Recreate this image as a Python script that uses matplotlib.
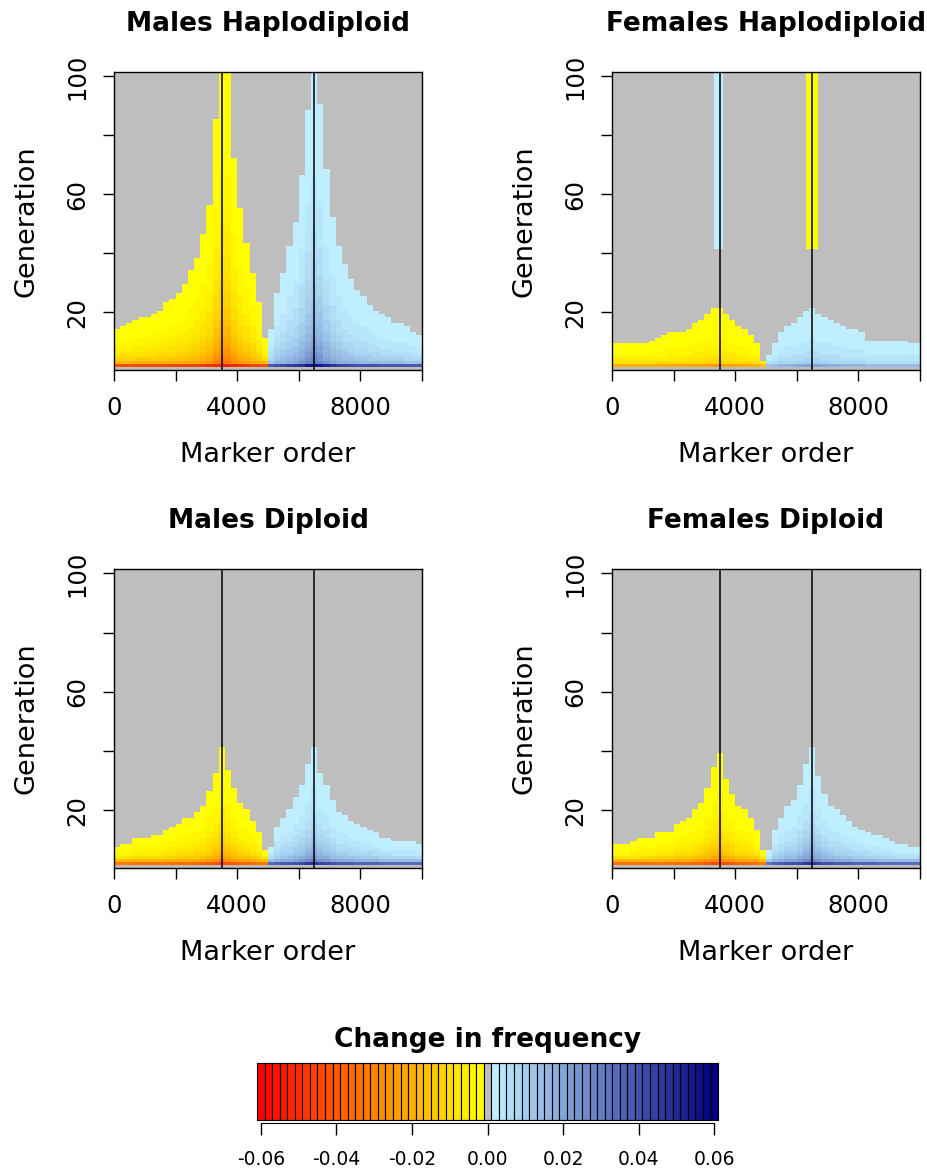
import numpy as np
import matplotlib
matplotlib.use("Agg")
from matplotlib import pyplot as plt
from matplotlib.colors import ListedColormap, BoundaryNorm

titles = ["Males Haplodiploid", "Females Haplodiploid", "Males Diploid", "Females Diploid"]

# last generation with a visible change, one value per 200-marker bin (0 .. 10000)
# first 25 bins: frequency goes down (yellow/red), last 25: goes up (blue)
height_males_haplo = [14.5, 15, 16, 17.5, 18, 18.5, 19, 20, 23, 24, 26, 29, 34, 38, 46, 56, 85, 101, 101, 72, 55, 43, 33, 23, 11,
                      14, 26, 33, 42, 50, 66, 88, 101, 90, 68, 52, 42, 36, 31, 27, 25, 22, 20, 19, 18, 16.5, 16, 15, 13.5, 12.5]
height_females_haplo = [9, 9, 9, 9, 9, 9.5, 10.5, 11, 12.5, 13, 13, 13, 14.5, 16, 17, 19.5, 21.5, 21.5, 19, 17.5, 15.5, 14, 12.5, 9, 3,
                        5, 9, 13, 15, 16.5, 18, 20, 21.5, 19.5, 18, 17, 16, 15, 14.5, 14, 13, 10, 10, 10, 10, 10, 10, 10, 9.5, 9]
height_males_dip = [7, 8, 8, 10, 10.5, 10.5, 11, 11, 13, 14, 15, 17, 17, 19, 21, 26, 32, 41, 33, 27, 22, 20, 16, 12, 6,
                    7, 14, 17, 20, 24, 28, 35, 41, 32, 28, 23, 19, 18, 16, 15, 14, 13, 12, 10.5, 10, 9.5, 9.5, 9.5, 9.5, 8]
height_females_dip = [8, 8, 8.5, 9, 10, 10.5, 10.5, 12, 12, 12.5, 15, 16, 17, 20, 22, 27, 34, 39, 30, 25, 21, 20, 17, 13, 6,
                      6, 13, 17, 21, 23, 28, 35, 41, 31, 25, 21, 20, 18, 16, 14, 13, 12, 11.5, 11, 10, 9.5, 8, 8, 7.5, 7]

# size of the change at generation 2 and 3: [yellow peak, yellow edge, blue peak, blue edge]
gen2_change = [[0.053, 0.040, 0.056, 0.035],
               [0.025, 0.015, 0.020, 0.010],
               [0.045, 0.030, 0.048, 0.030],
               [0.045, 0.030, 0.048, 0.030]]
gen3_change = [[0.034, 0.016, 0.030, 0.010],
               [0.012, 0.006, 0.010, 0.004],
               [0.030, 0.014, 0.028, 0.010],
               [0.030, 0.014, 0.028, 0.010]]

# late sweeps in females haplodiploid: (from marker, to marker, from generation, change)
strips_females_haplo = [(3300, 3600, 42, 0.002), (6300, 6700, 42, -0.002)]

selected_loci = [3500, 6500]

markers = np.arange(50, 10000, 100)
gens = np.arange(1, 102)

# colour scale: red -> yellow, grey for ~0, light blue -> navy
reds = np.column_stack([np.ones(30), np.linspace(0, 1, 30), np.zeros(30)])
blues = np.linspace([191, 239, 255], [0, 0, 128], 30) / 255
colors = list(reds) + [(190/255, 190/255, 190/255)] + list(blues)
bounds = np.linspace(-0.061, 0.061, 62)
cmap = ListedColormap(colors)
norm = BoundaryNorm(bounds, cmap.N)


def build_field(heights, g2, g3, strips=()):
    h = np.repeat(heights, 2)
    field = np.zeros((gens.size, markers.size))
    for j, x in enumerate(markers):
        left = x < 5000
        sign = -1 if left else 1
        side_h = heights[:25] if left else heights[25:]
        w = h[j] / max(side_h)
        k = 0 if left else 2
        a2 = g2[k + 1] + (g2[k] - g2[k + 1]) * w
        a3 = g3[k + 1] + (g3[k] - g3[k + 1]) * w
        field[1, j] = sign * a2
        top = int(h[j])
        for g in range(3, top + 1):
            t = ((g - 3) / max(top - 3, 1)) ** 0.75
            field[g - 1, j] = sign * a3 * (0.0012 / a3) ** t
    for x0, x1, g0, v in strips:
        cols = (markers > x0) & (markers < x1)
        field[g0 - 1:, cols] = v
    return np.clip(field, -0.06, 0.06)


fields = [build_field(height_males_haplo, gen2_change[0], gen3_change[0]),
          build_field(height_females_haplo, gen2_change[1], gen3_change[1], strips_females_haplo),
          build_field(height_males_dip, gen2_change[2], gen3_change[2]),
          build_field(height_females_dip, gen2_change[3], gen3_change[3])]

W, H = 928, 1171
fig = plt.figure(figsize=(W / 100, H / 100), dpi=100)

# panel boxes in pixels: left, top, right, bottom
boxes = [(114, 72, 422, 370), (612, 72, 920, 370), (114, 569, 422, 868), (612, 569, 920, 868)]

for i, (l, t, r, b) in enumerate(boxes):
    ax = fig.add_axes([l / W, 1 - b / H, (r - l) / W, (b - t) / H])
    ax.imshow(fields[i], cmap=cmap, norm=norm, origin='lower', aspect='auto',
              interpolation='nearest', extent=(0, 10000, 0.5, 101.5))
    for x in selected_loci:
        ax.axvline(x, color='black', lw=1.1)
    ax.set_xlim(0, 10000)
    ax.set_ylim(0.5, 101.5)
    ax.set_xticks(range(0, 10001, 2000))
    ax.set_xticklabels(['0', '', '4000', '', '8000', ''])
    ax.set_yticks(range(20, 101, 20))
    ax.set_yticklabels(['20', '', '60', '', '100'])
    ax.tick_params(axis='x', length=8, width=1, labelsize=17.5, pad=11)
    ax.tick_params(axis='y', length=8, width=1, labelsize=17.5, pad=10)
    plt.setp(ax.get_yticklabels(), rotation=90, va='center')
    for sp in ax.spines.values():
        sp.set_linewidth(1.0)
    ax.text(0.5, (370 - 24) / 298, titles[i], transform=ax.transAxes,
            ha='center', va='center', fontsize=19, fontweight='bold')
    ax.text(0.5, (370 - 455) / 298, 'Marker order', transform=ax.transAxes,
            ha='center', va='center', fontsize=19.5)
    ax.text((27 - 114) / 308, 0.5, 'Generation', transform=ax.transAxes,
            ha='center', va='center', rotation=90, fontsize=19.5)

# colour key
cax = fig.add_axes([257 / W, 1 - 1120 / H, 461 / W, 57.5 / H])
centers = (bounds[:-1] + bounds[1:]) / 2
cax.bar(centers, 1, width=0.002, color=colors, edgecolor='black', linewidth=0.8)
cax.set_xlim(-0.061, 0.061)
cax.set_ylim(0, 1)
cax.set_xticks([])
cax.set_yticks([])
sec = cax.secondary_xaxis(-0.05)
key_ticks = [-0.06, -0.04, -0.02, 0.0, 0.02, 0.04, 0.06]
sec.set_xticks(key_ticks)
sec.set_xticklabels(['-0.06', '-0.04', '-0.02', '0.00', '0.02', '0.04', '0.06'])
sec.tick_params(length=8.6, width=1, labelsize=13.5, pad=11)
sec.spines['bottom'].set_bounds(-0.06, 0.06)
fig.text(487.5 / W, 1 - 1040 / H, 'Change in frequency', ha='center', va='center',
         fontsize=19, fontweight='bold')

fig.savefig('out.png', dpi=100)
